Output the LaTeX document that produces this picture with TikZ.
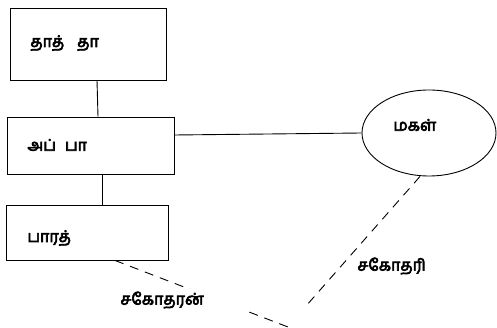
\documentclass[tikz,border=0pt]{standalone}
\usepackage{fontspec}
\newfontfamily\tamil[Script=Tamil,FakeBold=4]{Hind Madurai}
\usetikzlibrary{shapes.geometric}
\begin{document}
\begin{tikzpicture}[x=1pt,y=-1pt,
  line width=0.9pt,
  boxst/.style={draw, rectangle, inner sep=0pt},
  lbl/.style={anchor=west, inner sep=0pt, font=\tamil\fontsize{16}{18}\selectfont},
  dsh/.style={dash pattern=on 9pt off 7pt}]
\useasboundingbox (0,0) rectangle (497,328);
\node[boxst, minimum width=156pt, minimum height=72pt] (b1) at (88,44) {};
\node[boxst, minimum width=167pt, minimum height=57pt] (b2) at (90.5,145.5) {};
\node[boxst, minimum width=162pt, minimum height=55pt] (b3) at (87,232.5) {};
\node[draw, ellipse, minimum width=134pt, minimum height=86pt, inner sep=0pt] (e) at (429,133) {};
\coordinate (c1) at (288,327);
\coordinate (c2) at (306,306);
\draw (b1.south -| 97,0) -- (b2.north -| 98,0);
\draw (b2.south -| 102,0) -- (b3.north -| 102,0);
\draw (b2.east |- 0,135) -- (e.west);
\draw[dsh] (b3.south -| 115,0) -- (c1);
\draw[dsh] (e.south -| 420,0) -- (c2);
\node[lbl] (t1) at (30,43) {தாத்\hspace{13pt}தா};
\node[lbl] (t2) at (27,145) {அப்\hspace{9pt}பா};
\node[lbl] (t3) at (27,238) {பாரத்};
\node[lbl] (t4) at (393,125) {மகள்};
\node[lbl, fill=white, text width=123pt, align=left, minimum height=22pt] (t5) at (120,300) {சகோதரன்};
\node[lbl] (t6) at (357,266) {சகோதரி};
\end{tikzpicture}
\end{document}
